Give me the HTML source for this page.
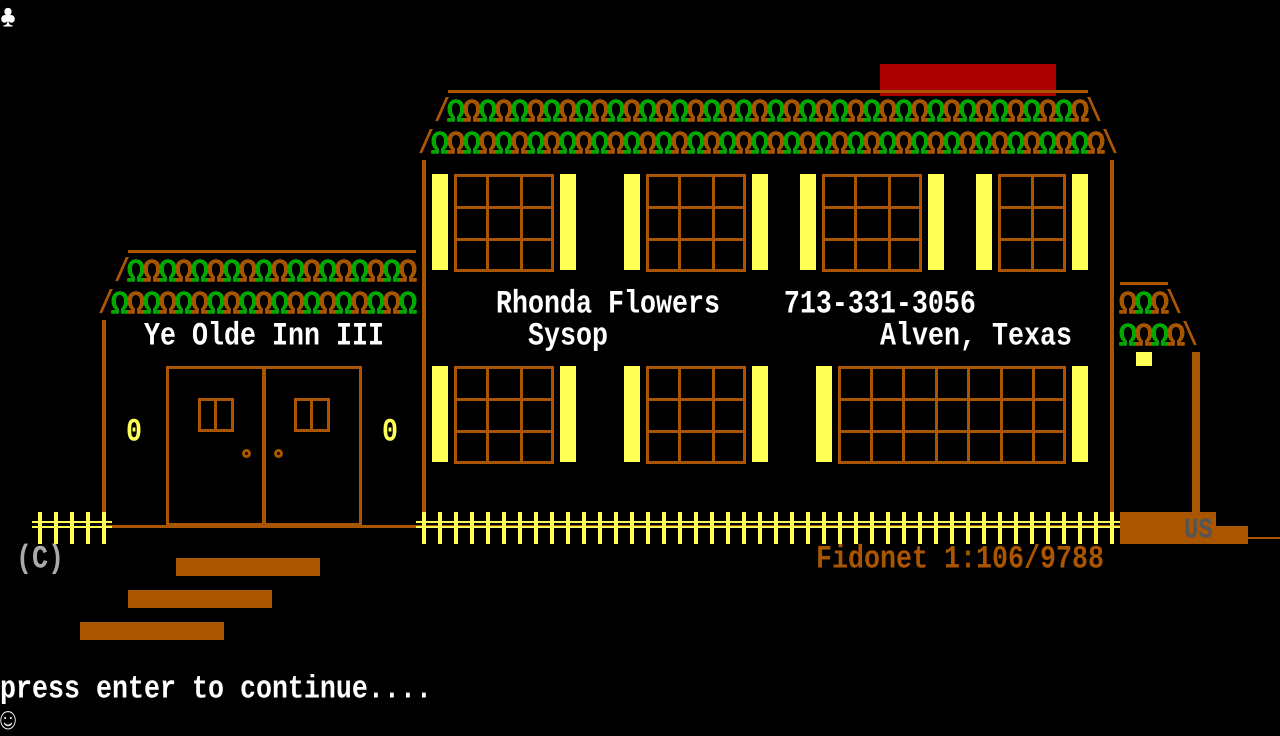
<!DOCTYPE html>
<html><head><meta charset="utf-8"><style>
html,body{margin:0;padding:0;background:#000;width:1280px;height:736px;overflow:hidden}
#c{position:relative;width:1280px;height:736px;background:#000}
.r{position:absolute}
.t{position:absolute;font-family:"Liberation Mono","DejaVu Sans Mono",monospace;font-size:26.667px;line-height:32px;height:32px;white-space:pre;font-weight:bold;transform:translateY(4px) scaleY(1.2);transform-origin:50% 60%}
.o{transform:translateY(5px) scale(1.2,1.25)}
.B{background:#aa5500}.Y{background:#ffff55}
</style></head><body><div id="c">
<div class="t" style="left:0;top:0;color:#fff">♣</div>
<div class="r" style="left:880px;top:64px;width:176px;height:32px;background:#aa0000"></div>
<div class="r B" style="left:448px;top:90px;width:640px;height:3px"></div>
<div class="r B" style="left:128px;top:250px;width:288px;height:3px"></div>
<div class="r B" style="left:1120px;top:282px;width:48px;height:3px"></div>
<div class="r B" style="left:422px;top:160px;width:4px;height:366px"></div>
<div class="r B" style="left:1110px;top:160px;width:4px;height:366px"></div>
<div class="r B" style="left:102px;top:320px;width:4px;height:206px"></div>
<div class="r B" style="left:104px;top:525px;width:1016px;height:3px"></div>
<div class="r B" style="left:166px;top:366px;width:196px;height:160px;box-sizing:border-box;border:3px solid #aa5500;background:none"></div>
<div class="r B" style="left:262px;top:366px;width:4px;height:160px"></div>
<div class="r" style="left:198px;top:398px;width:36px;height:34px;box-sizing:border-box;border:3px solid #aa5500"></div>
<div class="r B" style="left:214px;top:398px;width:3px;height:34px"></div>
<div class="r" style="left:294px;top:398px;width:36px;height:34px;box-sizing:border-box;border:3px solid #aa5500"></div>
<div class="r B" style="left:310px;top:398px;width:3px;height:34px"></div>
<div class="r" style="left:242px;top:449px;width:9px;height:9px;border-radius:50%;box-sizing:border-box;border:3px solid #aa5500"></div>
<div class="r" style="left:274px;top:449px;width:9px;height:9px;border-radius:50%;box-sizing:border-box;border:3px solid #aa5500"></div>
<div class="t" style="left:126px;top:414px;color:#ffff55">0</div>
<div class="t" style="left:382px;top:414px;color:#ffff55">0</div>
<div class="t" style="left:144px;top:318px;color:#fff">Ye Olde Inn III</div>
<div class="t" style="left:496px;top:286px;color:#fff">Rhonda Flowers    713-331-3056</div>
<div class="t" style="left:528px;top:318px;color:#fff">Sysop</div>
<div class="t" style="left:880px;top:318px;color:#fff">Alven, Texas</div>
<div class="t" style="left:16px;top:541px;color:#aaaaaa">(C)</div>
<div class="t" style="left:816px;top:541px;color:#aa5500">Fidonet 1:106/9788</div>
<div class="t" style="left:0;top:671px;color:#fff">press enter to continue....</div>
<div class="t" style="left:0;top:703px;color:#fff;font-weight:normal">☺</div>
<div class="r B" style="left:176px;top:558px;width:144px;height:18px"></div>
<div class="r B" style="left:128px;top:590px;width:144px;height:18px"></div>
<div class="r B" style="left:80px;top:622px;width:144px;height:18px"></div>
<div class="r B" style="left:1192px;top:352px;width:8px;height:160px"></div>
<div class="r B" style="left:1120px;top:512px;width:96px;height:32px"></div>
<div class="r B" style="left:1216px;top:526px;width:32px;height:18px"></div>
<div class="r B" style="left:1248px;top:537px;width:32px;height:2px"></div>
<div class="r Y" style="left:1136px;top:352px;width:16px;height:14px"></div>
<div class="t" style="left:1184px;top:512px;color:#555;font-size:24px">US</div>
</div>
<script>
var c=document.getElementById('c');
function R(x,y,w,h,cls,st){var d=document.createElement('div');d.className='r '+(cls||'');d.style.cssText='left:'+x+'px;top:'+y+'px;width:'+w+'px;height:'+h+'px;'+(st||'');c.appendChild(d);}
function T(x,y,s,col,cl){var d=document.createElement('div');d.className='t'+(cl?' '+cl:'');d.style.cssText='left:'+x+'px;top:'+y+'px;color:'+col;d.textContent=s;c.appendChild(d);}
function om(x,y,n,first){for(var i=0;i<n;i++){T(x+i*16,y,'Ω',((i+first)%2==0)?'#00aa00':'#aa5500','o');}}
om(448,94,40,0);T(434,94,'/','#aa5500');T(1086,94,'\\','#aa5500');
om(432,126,42,0);T(418,126,'/','#aa5500');T(1102,126,'\\','#aa5500');
om(128,254,18,0);T(114,254,'/','#aa5500');
om(112,286,19,0);T(98,286,'/','#aa5500');
om(1120,286,3,1);T(1166,286,'\\','#aa5500');
om(1120,318,4,0);T(1182,318,'\\','#aa5500');
function win(x,y,w,h,cols,rows){R(x,y,w,h,'','box-sizing:border-box;border:3px solid #aa5500');
 for(var i=1;i<cols;i++)R(x+Math.round(w*i/cols)-1,y,3,h,'B');
 for(var j=1;j<rows;j++)R(x,y+Math.round(h*j/rows)-1,w,3,'B');}
[[432,560,454,100,3],[624,752,646,100,3],[800,928,822,100,3],[976,1072,998,68,2]].forEach(function(a){
 R(a[0],174,16,96,'Y');R(a[1],174,16,96,'Y');win(a[2],174,a[3],98,a[4],3);});
[[432,560,454,100,3],[624,752,646,100,3]].forEach(function(a){
 R(a[0],366,16,96,'Y');R(a[1],366,16,96,'Y');win(a[2],366,a[3],98,a[4],3);});
R(816,366,16,96,'Y');R(1072,366,16,96,'Y');win(838,366,228,98,7,3);
function fence(x0,n){for(var i=0;i<n;i++)R(x0+i*16+6,512,4,32,'Y');
 R(x0,521,n*16,2,'Y');R(x0,526,n*16,2,'Y');}
fence(32,5);fence(416,44);
</script>
</body></html>
